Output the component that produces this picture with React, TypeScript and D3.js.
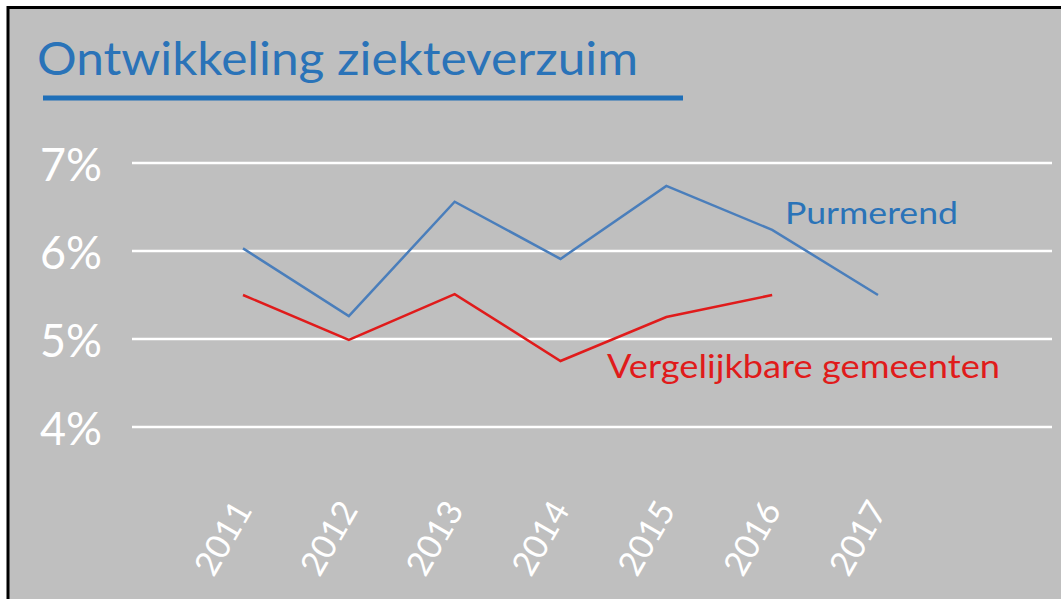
import React from "react";
import * as d3 from "d3";

const years = ["2011", "2012", "2013", "2014", "2015", "2016", "2017"];
const purmerend = [6.03, 5.26, 6.56, 5.91, 6.74, 6.24, 5.5];
const vergelijkbaar = [5.5, 4.99, 5.51, 4.75, 5.25, 5.5];
const yTicks = [4, 5, 6, 7];

const W = 1061;
const H = 599;
const FONT = "Lato, 'Open Sans', sans-serif";

const App = () => {
    const x = d3.scalePoint<string>().domain(years).range([243, 878]);
    const y = d3.scaleLinear().domain([4, 7]).range([427, 163]);

    const line = d3.line<number>()
        .x((d, i) => x(years[i]) as number)
        .y((d) => y(d));

    return (
        <div style={{ position: "absolute", left: 0, top: 0 }}>
            <svg width={W} height={H} style={{ display: "block" }}>
                <rect x={0} y={0} width={W} height={H} fill="#ffffff" />
                <rect x={7} y={6} width={W - 7} height={H - 6} fill="#bfbfbf" />
                <line x1={7} x2={W} y1={7.5} y2={7.5} stroke="#000" strokeWidth={3} />
                <line x1={8} x2={8} y1={6} y2={H} stroke="#000" strokeWidth={3} />

                {/* title */}
                <text x={37} y={75} fill="#2a73b8" fontFamily={FONT} fontSize={46}
                    textLength={601} lengthAdjust="spacingAndGlyphs">
                    Ontwikkeling ziekteverzuim
                </text>
                <line x1={43} x2={683} y1={98} y2={98} stroke="#1f6fb8" strokeWidth={5} />

                {/* grid + y labels */}
                {yTicks.map((t) => (
                    <g key={t}>
                        <line x1={132} x2={1052} y1={y(t)} y2={y(t)} stroke="#ffffff" strokeWidth={2.5} />
                        <text x={40} y={y(t) + 18} fill="#ffffff" fontFamily={FONT} fontSize={46}
                            textLength={62} lengthAdjust="spacingAndGlyphs">
                            {t}%
                        </text>
                    </g>
                ))}

                {/* x labels */}
                {years.map((yr) => (
                    <text
                        key={yr}
                        transform={`translate(${(x(yr) as number) + 10},${510}) rotate(-60)`}
                        textAnchor="end"
                        fill="#ffffff"
                        fontFamily={FONT}
                        fontSize={34}
                    >
                        {yr}
                    </text>
                ))}

                {/* lines */}
                <path d={line(purmerend) || ""} fill="none" stroke="#4a7ebb" strokeWidth={2.5} />
                <path d={line(vergelijkbaar) || ""} fill="none" stroke="#e01b1b" strokeWidth={2.5} />

                <text x={785} y={224} fill="#2a73b8" fontFamily={FONT} fontSize={31}
                    textLength={173} lengthAdjust="spacingAndGlyphs">
                    Purmerend
                </text>
                <text x={607} y={378} fill="#e01b1b" fontFamily={FONT} fontSize={32}
                    textLength={393} lengthAdjust="spacingAndGlyphs">
                    Vergelijkbare gemeenten
                </text>
            </svg>
        </div>
    );
};

export default App;
